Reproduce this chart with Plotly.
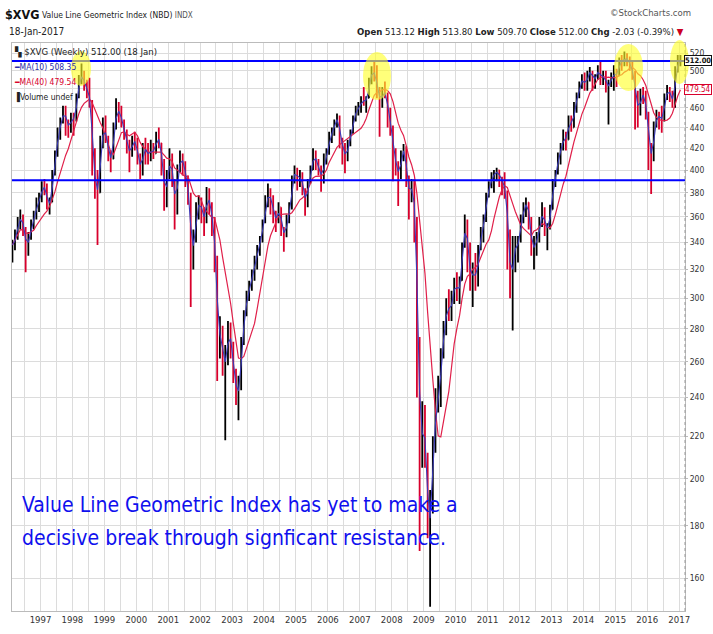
import numpy as np
import pandas as pd
import plotly.graph_objects as go

# ---------------- data (monthly bars) ----------------
highs = [
    # 1996 Feb-Dec
    342, 350, 360, 366, 362, 352, 348, 358, 365, 376, 380,
    # 1997
    390, 392, 388, 376, 400, 418, 440, 450, 462, 462, 448, 455,
    # 1998
    455, 475, 495, 508, 500, 490, 492, 468, 420, 400, 432, 450,
    # 1999
    452, 432, 418, 445, 470, 466, 462, 448, 438, 428, 432, 436,
    # 2000
    430, 415, 425, 430, 425, 428, 425, 436, 440, 425, 410, 400,
    # 2001
    420, 415, 392, 405, 418, 415, 408, 395, 380, 350, 372, 378,
    # 2002
    376, 368, 385, 384, 372, 360, 330, 288, 282, 270, 285, 284,
    # 2003
    272, 256, 252, 275, 292, 305, 312, 320, 330, 338, 345, 358,
    # 2004
    378, 388, 384, 378, 365, 372, 368, 352, 362, 372, 395, 404,
    # 2005
    402, 400, 398, 384, 392, 404, 420, 418, 410, 404, 415, 420,
    # 2006
    436, 440, 448, 454, 452, 430, 425, 428, 438, 452, 462, 466,
    # 2007
    472, 482, 472, 492, 505, 510, 506, 482, 482, 488, 476, 460,
    # 2008
    442, 420, 408, 418, 424, 422, 395, 392, 392, 360, 275, 238,
    # 2009
    236, 212, 195, 220, 245, 252, 268, 285, 300, 306, 305, 314,
    # 2010
    318, 315, 340, 362, 358, 340, 325, 332, 338, 352, 362, 380,
    # 2011
    390, 398, 400, 402, 400, 394, 398, 382, 350, 345, 345, 345,
    # 2012
    362, 372, 376, 372, 360, 345, 348, 360, 372, 368, 355, 370,
    # 2013
    392, 400, 416, 425, 438, 436, 452, 452, 466, 476, 488, 496,
    # 2014
    498, 500, 504, 500, 496, 506, 510, 500, 500, 490, 498, 506,
    # 2015
    502, 515, 518, 522, 520, 516, 512, 500, 478, 480, 482, 478,
    # 2016
    456, 425, 446, 458, 456, 462, 475, 484, 482, 478, 505, 518,
    # 2017 Jan
    518,
]
lows = [
    325, 334, 342, 350, 345, 318, 330, 342, 350, 358, 364,
    372, 378, 366, 362, 372, 395, 412, 428, 444, 432, 430, 435,
    432, 446, 470, 485, 478, 470, 460, 395, 375, 338, 380, 420,
    425, 408, 398, 410, 438, 445, 440, 428, 415, 398, 412, 418,
    405, 392, 395, 405, 405, 408, 410, 415, 420, 395, 365, 368,
    392, 385, 350, 362, 398, 395, 385, 370, 294, 320, 340, 358,
    355, 345, 355, 362, 345, 318, 249, 262, 252, 218, 258, 262,
    248, 236, 228, 244, 270, 288, 298, 305, 312, 320, 330, 340,
    355, 368, 362, 355, 348, 355, 345, 333, 344, 355, 366, 388,
    382, 385, 378, 361, 368, 388, 400, 400, 395, 381, 388, 405,
    414, 425, 432, 440, 420, 405, 397, 408, 422, 434, 446, 452,
    455, 462, 455, 470, 485, 488, 470, 431, 460, 470, 440, 432,
    390, 395, 369, 392, 408, 385, 358, 372, 340, 240, 170, 205,
    205, 175, 150, 185, 212, 232, 235, 262, 276, 285, 285, 296,
    298, 296, 312, 336, 318, 305, 294, 305, 308, 334, 340, 356,
    376, 384, 380, 390, 385, 378, 375, 320, 300, 279, 318, 325,
    340, 355, 360, 350, 330, 320, 330, 340, 352, 345, 334, 350,
    366, 385, 396, 405, 418, 418, 428, 436, 440, 455, 470, 480,
    478, 478, 488, 478, 480, 490, 484, 484, 476, 443, 482, 478,
    482, 494, 500, 505, 505, 500, 490, 438, 440, 452, 464, 448,
    400, 379, 408, 440, 438, 435, 446, 468, 466, 460, 460, 498,
    505,
]
closes = [
    338, 345, 356, 360, 350, 335, 345, 355, 360, 372, 375,
    386, 384, 370, 372, 396, 414, 436, 445, 458, 445, 440, 450,
    448, 472, 490, 496, 482, 478, 465, 405, 385, 380, 425, 440,
    430, 412, 410, 440, 458, 455, 445, 432, 420, 415, 428, 425,
    410, 400, 420, 418, 412, 420, 415, 432, 425, 405, 375, 395,
    412, 390, 368, 400, 412, 405, 392, 375, 330, 345, 365, 374,
    362, 358, 380, 368, 355, 325, 275, 278, 258, 262, 280, 268,
    252, 242, 245, 272, 290, 302, 308, 318, 322, 336, 342, 356,
    372, 380, 372, 360, 358, 368, 350, 345, 358, 368, 392, 400,
    390, 396, 382, 370, 390, 400, 416, 405, 402, 390, 412, 415,
    432, 436, 446, 450, 428, 420, 410, 425, 435, 450, 458, 460,
    468, 466, 470, 490, 500, 495, 478, 465, 478, 474, 452, 440,
    415, 402, 395, 415, 420, 390, 378, 388, 355, 270, 215, 228,
    210, 178, 188, 215, 238, 240, 265, 280, 296, 290, 300, 312,
    302, 312, 338, 356, 330, 310, 322, 310, 335, 348, 358, 378,
    386, 395, 396, 400, 392, 390, 380, 345, 305, 335, 335, 342,
    358, 368, 372, 358, 332, 340, 342, 356, 365, 350, 352, 366,
    390, 398, 414, 420, 432, 428, 450, 440, 462, 472, 485, 492,
    482, 498, 498, 490, 492, 504, 488, 498, 480, 486, 492, 498,
    494, 512, 510, 515, 512, 505, 495, 470, 455, 475, 472, 455,
    420, 410, 442, 452, 450, 448, 472, 478, 474, 464, 502, 510,
    512,
]
first_open = 335
resistance_high = 511
resistance_low = 391
year_labels = [str(y) for y in range(1997, 2018)]
price_ticks = list(range(160, 521, 20))
price_tick_text = [("" if v == 480 else str(v)) for v in price_ticks]  # 480 hidden behind MA box

# ---------------- derived ----------------
dates = pd.date_range("1996-02-01", "2017-01-01", freq="MS") + pd.Timedelta(days=14)
opens = [first_open] + closes[:-1]
close_s = pd.Series(closes, dtype=float)
ma10 = close_s.rolling(2, min_periods=1).mean()   # 10 weeks ~ 2 months
ma40 = close_s.rolling(9, min_periods=1).mean()   # 40 weeks ~ 9 months

# ---------------- layout helpers (pixel -> paper) ----------------
W, H = 713, 634
L, R, T, B = 12, 685, 43, 611
def px(x): return (x - L) / (R - L)
def py(y): return (B - y) / (B - T)

NARROW = "Liberation Sans Narrow, DejaVu Sans Condensed, Arial Narrow, sans-serif"
RED = "#d8002c"

fig = go.Figure()
fig.add_trace(go.Ohlc(
    x=dates, open=opens, high=highs, low=lows, close=closes,
    increasing=dict(line=dict(color="black", width=1.8)),
    decreasing=dict(line=dict(color=RED, width=1.8)),
    tickwidth=0.25, hoverinfo="skip", showlegend=False))
fig.add_trace(go.Scatter(x=dates, y=ma40, mode="lines",
                         line=dict(color="#e0204a", width=1.2), hoverinfo="skip", showlegend=False))
fig.add_trace(go.Scatter(x=dates, y=ma10, mode="lines",
                         line=dict(color="#3a3ab8", width=1.1), hoverinfo="skip", showlegend=False))
x_start, x_end = "1996-02-10", "2017-03-08"
for lvl in (resistance_high, resistance_low):
    fig.add_trace(go.Scatter(x=[x_start, x_end], y=[lvl, lvl], mode="lines",
                             line=dict(color="#0000ff", width=2), hoverinfo="skip", showlegend=False))

jan_ticks = [f"{y}-01-01" for y in range(1997, 2018)]
jul_ticks = [f"{y}-07-01" for y in range(1996, 2017)]
tickvals = jan_ticks + jul_ticks
ticktext = year_labels + [""] * len(jul_ticks)

fig.update_layout(
    width=W, height=H,
    margin=dict(l=L, r=W - R, t=T, b=H - B, autoexpand=False),
    paper_bgcolor="white", plot_bgcolor="white",
    showlegend=False, hovermode=False,
    font=dict(family=NARROW, size=10, color="#333"),
    xaxis=dict(type="date", range=[x_start, x_end], rangeslider=dict(visible=False),
               tickvals=tickvals, ticktext=ticktext, ticks="", automargin=False,
               showgrid=True, gridcolor="#dcdcdc", gridwidth=1,
               showline=True, linecolor="#bbbbbb", mirror=True, zeroline=False,
               tickfont=dict(family=NARROW, size=9.5, color="#333")),
    yaxis=dict(type="log", side="right", automargin=False,
               range=[np.log10(148.6), np.log10(532)],
               tickvals=price_ticks, ticktext=price_tick_text,
               showgrid=True, gridcolor="#dcdcdc", gridwidth=1,
               ticks="outside", ticklen=2, tickcolor="#bbbbbb",
               showline=True, linecolor="#bbbbbb", mirror=True, zeroline=False,
               tickfont=dict(family=NARROW, size=8.5, color="#333")),
)

shapes = []
shapes.append(dict(type="line", xref="paper", yref="paper", x0=1, x1=1, y0=0, y1=1,
                   line=dict(color="#999999", width=1, dash="dot")))
for (x0, y0, x1, y1) in [(71, 51, 91, 86), (363, 52, 391, 100), (614, 44, 643, 91), (670, 40, 689, 84)]:
    shapes.append(dict(type="circle", xref="paper", yref="paper",
                       x0=px(x0), x1=px(x1), y0=py(y1), y1=py(y0),
                       fillcolor="rgba(255,255,40,0.62)", line=dict(width=0), layer="above"))
fig.update_layout(shapes=shapes)

ann = []
def txt(x, y, s, size=11, color="#222", family=NARROW, anchor="left", **kw):
    ann.append(dict(xref="paper", yref="paper", x=px(x), y=py(y), text=s, showarrow=False,
                    xanchor=anchor, yanchor="middle", borderpad=0,
                    font=dict(size=size, color=color, family=family), **kw))

# header
txt(4, 14, "<b>$XVG</b>", size=12.5, color="#111")
txt(41, 15, "Value Line Geometric Index (NBD) <span style='font-size:8px;color:#555'>INDX</span>",
    size=8.5, color="#222")
txt(8, 31, "18-Jan-2017", size=10, color="#222")
txt(692, 13, "©StockCharts.com", size=9.5, color="#555", anchor="right")
txt(685, 31,
    "<b>Open</b> 513.12 <b>High</b> 513.80 <b>Low</b> 509.70 <b>Close</b> 512.00 "
    "<b>Chg</b> -2.03 (-0.39%) <span style='color:#cc0022'>▼</span>",
    size=9.5, color="#222", anchor="right")

# in-plot legend
txt(13, 52, "▚ $XVG (Weekly) 512.00 (18 Jan)", size=9.5, color="#222")
txt(13, 67, "━MA(10) 508.35", size=8.5, color="#2a2aa8")
txt(13, 82, "━MA(40) 479.54", size=8.5, color=RED)
txt(13, 97, "▐Volume undef", size=8.5, color="#222")

# annotation text
txt(21, 505, "Value Line Geometric Index has yet to make a", size=21, color="#1010ee")
txt(21, 538, "decisive break through signficant resistance.", size=21, color="#1010ee")

# price label boxes on the right axis
ann.append(dict(xref="paper", yref="y", x=px(712), y=np.log10(closes[-1]),
                text="<b>512.00</b>", showarrow=False, xanchor="right", yanchor="middle",
                font=dict(size=7.5, color="#111", family=NARROW),
                bgcolor="white", bordercolor="#111", borderwidth=1, borderpad=0))
ann.append(dict(xref="paper", yref="y", x=px(712), y=np.log10(ma40.iloc[-1]),
                text="479.54", showarrow=False, xanchor="right", yanchor="middle",
                font=dict(size=8, color=RED, family=NARROW),
                bgcolor="white", bordercolor=RED, borderwidth=1, borderpad=0))
fig.update_layout(annotations=ann)

# the page body has a default 8px margin; remove it so the figure sits at the top-left corner
fig.write_html("out.html", config={"displayModeBar": False},
               post_script="document.body.style.margin='0px';")
